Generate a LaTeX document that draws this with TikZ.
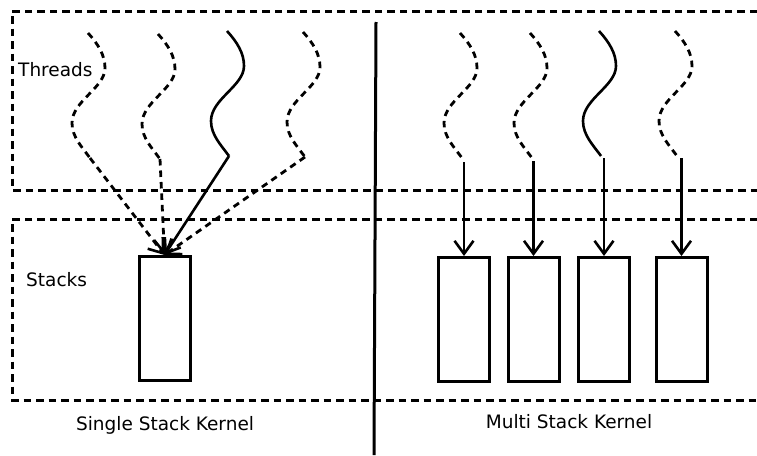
\documentclass[tikz,border=0pt]{standalone}
\usepackage{fontspec}
\setmainfont{DejaVu Sans}
\usetikzlibrary{arrows.meta}

\tikzset{
  region/.style={line width=3pt, dash pattern=on 7.5pt off 5pt},
  idle/.style={line width=2.8pt, dash pattern=on 6.5pt off 5pt},
  active/.style={line width=2.6pt},
  stackbox/.style={draw, line width=3pt, minimum width=51pt, minimum height=124pt, inner sep=0pt},
  link/.style={-{Straight Barb[length=13pt,width=19pt,line width=2.6pt]}},
  label/.style={font=\fontsize{18.5pt}{20pt}\selectfont, inner sep=0pt},
  thread/.pic={
    \draw[pic actions] (0,0) .. controls (10,11) and (17,22) .. (17,35)
      .. controls (17,55) and (-16,68) .. (-16,90)
      .. controls (-16,104) and (-6,114) .. (2,125);
    \coordinate (-end) at (2,125);
  }
}

\begin{document}
\begin{tikzpicture}[x=1pt, y=-1pt]
\useasboundingbox (0,0) rectangle (757,455);

% thread and stack regions, open to the right
\draw[region] (757,11) -- (12,11) -- (12,190) -- (757,190);
\draw[region] (757,219) -- (12,219) -- (12,400) -- (757,400);

% divider between the two kernels
\draw[line width=3pt] (376,22) -- (374,455);

% labels
\node[label, anchor=west] (threads) at (18,70) {Threads};
\node[label, anchor=west] (stacks) at (26,280) {Stacks};
\node[label] (single) at (165,425) {Single Stack Kernel};
\node[label] (multi) at (569,422) {Multi Stack Kernel};

% single stack kernel
\node[stackbox] (s0) at (164.5,318.5) {};
\pic[idle] (a1) at (88,33) {thread};
\pic[idle] (a2) at (158,34) {thread};
\pic[active] (a3) at (227,31) {thread};
\pic[idle] (a4) at (303,32) {thread};
\draw[idle, link] (a1-end) -- (s0.north);
\draw[idle, link] (a2-end) -- (s0.north);
\draw[active, link] (a3-end) -- (s0.north);
\draw[idle, link] (a4-end) -- (s0.north);

% multi stack kernel
\node[stackbox] (m1) at (464,319.5) {};
\node[stackbox] (m2) at (533.5,319.5) {};
\node[stackbox] (m3) at (604,319.5) {};
\node[stackbox] (m4) at (681.5,319.5) {};
\pic[idle] (b1) at (460,33) {thread};
\pic[idle] (b2) at (530,33) {thread};
\pic[active] (b3) at (599,31) {thread};
\pic[idle] (b4) at (675,31) {thread};
\draw[active, link] ([yshift=-4pt]m1.north |- b1-end) -- (m1.north);
\draw[active, link] ([yshift=-3pt]m2.north |- b2-end) -- (m2.north);
\draw[active, link] ([yshift=-2pt]m3.north |- b3-end) -- (m3.north);
\draw[active, link] ([yshift=-2pt]m4.north |- b4-end) -- (m4.north);
\end{tikzpicture}
\end{document}
